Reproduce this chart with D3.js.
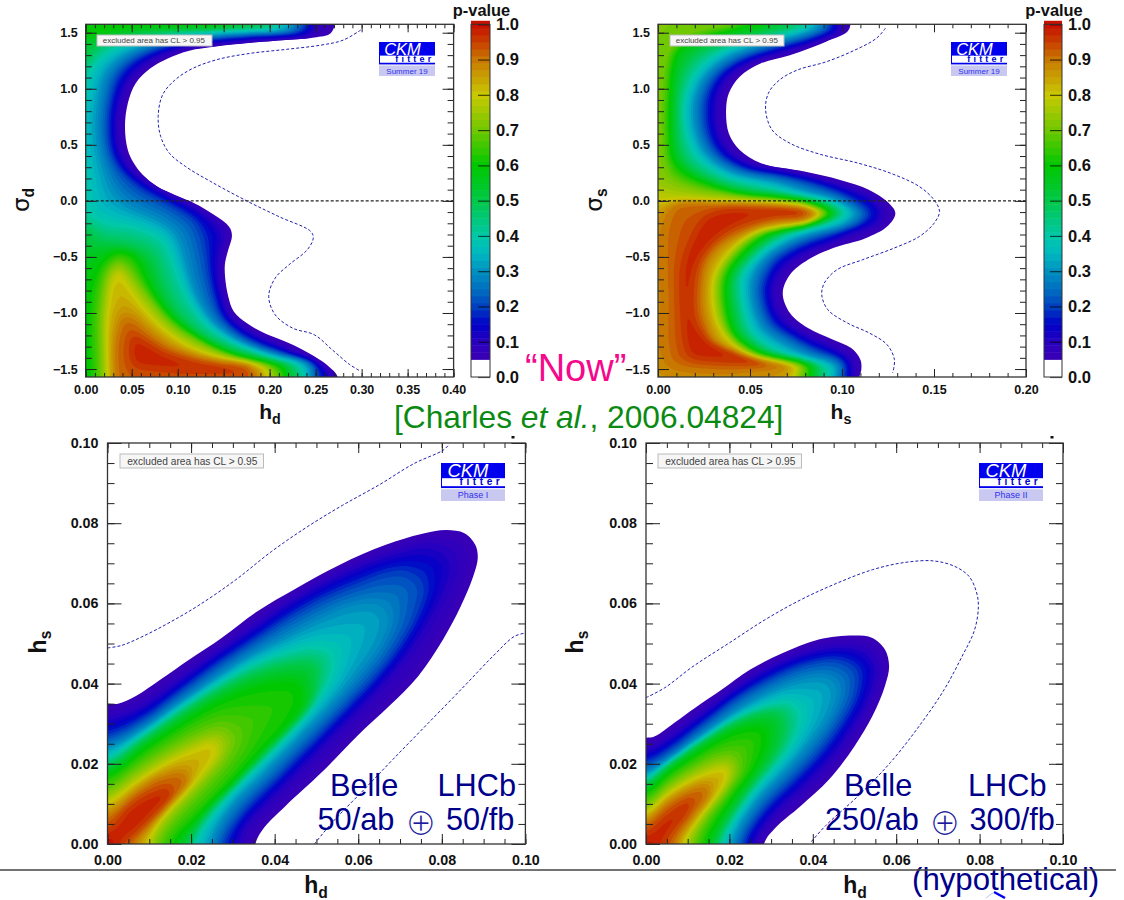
<!DOCTYPE html>
<html>
<head>
<meta charset="utf-8">
<script src="https://cdn.jsdelivr.net/npm/d3@7"></script>
<style>
  html, body { margin: 0; padding: 0; background: #fff; }
  svg { display: block; font-family: "Liberation Sans", Arial, sans-serif; }
  .tick text { font-weight: bold; fill: #111; }
</style>
</head>
<body>
<svg id="chart" width="1124" height="900"></svg>
<script>
// colour bar of the p-value
const pStops = [0.05, 0.1, 0.15, 0.2, 0.25, 0.3, 0.35, 0.4, 0.45, 0.5, 0.6, 0.7, 0.8, 0.85, 0.9, 0.95, 1.0];
const pColors = ['#3c00b4', '#2800c0', '#0000c8', '#0040c0', '#0070c0', '#0090c0', '#00b8c0', '#00c8a8', '#00c878', '#00c848', '#00c800', '#70c800', '#c8c800', '#c8a000', '#c87800', '#c84000', '#c81000'];
const barTicks = [0, 0.1, 0.2, 0.3, 0.4, 0.5, 0.6, 0.7, 0.8, 0.9, 1.0];

// panel A: p-value contours in (h_d, sigma_d)
const a05 = [[.271,1.575],[.266,1.494],[.2485,1.458],[.2175,1.434],[.179,1.41],[.14,1.375],[.1126,1.34],[.0893,1.27],[.07,1.18],[.0544,1.05],[.0458,.87],[.0427,.66],[.0458,.454],[.0524,.336],[.062,.232],[.0777,.128],[.097,.053],[.1126,0],[.128,-.065],[.1476,-.169],[.157,-.244],[.159,-.318],[.155,-.437],[.1515,-.555],[.1515,-.674],[.155,-.852],[.161,-.986],[.175,-1.09],[.194,-1.179],[.2136,-1.244],[.229,-1.298],[.2485,-1.387],[.264,-1.476],[.274,-1.568]];
const a10 = [[.2485,1.575],[.2466,1.494],[.179,1.44],[.14,1.41],[.109,1.375],[.0816,1.30],[.062,1.21],[.0466,1.08],[.037,.9],[.033,.66],[.036,.454],[.0427,.336],[.0524,.246],[.07,.143],[.093,.04],[.1126,-.036],[.128,-.11],[.1417,-.2],[.1495,-.318],[.1456,-.466],[.1437,-.644],[.1483,-.852],[.155,-1.016],[.171,-1.135],[.19,-1.224],[.21,-1.298],[.229,-1.38],[.258,-1.476],[.266,-1.57]];
const a20 = [[.2388,1.575],[.233,1.51],[.202,1.485],[.163,1.458],[.128,1.434],[.093,1.39],[.07,1.33],[.05,1.24],[.035,1.108],[.027,.9],[.024,.66],[.027,.454],[.033,.336],[.0427,.232],[.062,.098],[.0816,.009],[.101,-.08],[.1185,-.184],[.126,-.318],[.13,-.466],[.134,-.674],[.14,-.882],[.1476,-1.03],[.163,-1.164],[.186,-1.268],[.21,-1.342],[.2485,-1.446],[.2524,-1.57]];
const a30 = [[.225,1.575],[.221,1.52],[.186,1.50],[.1476,1.485],[.1126,1.458],[.0816,1.42],[.0544,1.35],[.035,1.256],[.0214,1.12],[.0148,.9],[.0124,.66],[.0148,.454],[.0194,.306],[.027,.128],[.0408,-.02],[.062,-.11],[.0816,-.184],[.097,-.288],[.105,-.437],[.1126,-.674],[.122,-.882],[.136,-1.06],[.155,-1.194],[.1825,-1.313],[.21,-1.38],[.241,-1.46],[.2447,-1.57]];
const a40 = [[.21,1.575],[.206,1.54],[.171,1.52],[.132,1.50],[.093,1.48],[.058,1.434],[.031,1.36],[.0155,1.27],[.004,1.137],[-.002,.9],[-.006,.6],[-.002,.306],[.004,-.11],[.023,-.2],[.0466,-.229],[.07,-.288],[.0854,-.377],[.095,-.555],[.105,-.763],[.1165,-.941],[.132,-1.105],[.155,-1.238],[.186,-1.342],[.21,-1.417],[.231,-1.46],[.237,-1.57]];
const a50top = [[.194,1.7],[.194,1.575],[.186,1.553],[.14,1.54],[.093,1.52],[.0544,1.494],[.023,1.434],[.0078,1.36],[0,1.27],[-.02,1.25],[-.03,1.7]];
const a50low = [[-.002,-.258],[.0155,-.362],[.035,-.392],[.058,-.437],[.072,-.526],[.08,-.704],[.089,-.882],[.105,-1.06],[.128,-1.209],[.159,-1.328],[.19,-1.402],[.2194,-1.46],[.227,-1.57],[.23,-1.7],[-.03,-1.7],[-.03,-.25]];
const a60top = [[.155,1.7],[.155,1.575],[.101,1.553],[.0544,1.54],[.023,1.52],[.004,1.49],[-.02,1.47],[-.03,1.7]];
const a60low = [[.035,-.451],[.0194,-.54],[.009,-.733],[.004,-1.03],[.004,-1.328],[.005,-1.57],[.005,-1.7],[.2175,-1.7],[.2175,-1.57],[.2117,-1.476],[.1786,-1.417],[.1476,-1.328],[.1165,-1.179],[.093,-1.03],[.0757,-.852],[.064,-.674],[.0524,-.496]];
const a70 = [[.0357,-.555],[.025,-.63],[.0194,-.823],[.0167,-1.06],[.0167,-1.328],[.0175,-1.57],[.0175,-1.7],[.208,-1.7],[.208,-1.57],[.202,-1.476],[.159,-1.372],[.128,-1.268],[.097,-1.12],[.0738,-.912],[.06,-.763],[.0485,-.63]];
const a80 = [[.0357,-.644],[.028,-.733],[.024,-.941],[.0225,-1.179],[.024,-1.57],[.024,-1.7],[.198,-1.7],[.198,-1.57],[.192,-1.476],[.14,-1.387],[.109,-1.283],[.08,-1.105],[.06,-.927],[.0466,-.763]];
const a90 = [[.041,-1.06],[.035,-1.179],[.032,-1.357],[.032,-1.57],[.032,-1.7],[.1864,-1.7],[.1864,-1.57],[.175,-1.46],[.1476,-1.43],[.1165,-1.38],[.089,-1.298],[.066,-1.164],[.0505,-1.06]];
const a95 = [[.051,-1.2],[.047,-1.357],[.052,-1.47],[.0816,-1.52],[.14,-1.54],[.175,-1.53],[.155,-1.48],[.12,-1.43],[.0854,-1.34],[.066,-1.25]];
const aDashed = [[.299,1.524],[.28,1.434],[.2563,1.39],[.2175,1.351],[.179,1.316],[.1437,1.262],[.1165,1.182],[.097,1.078],[.0835,.944],[.0788,.751],[.0816,.573],[.091,.425],[.1087,.306],[.136,.172],[.175,0],[.21,-.14],[.2447,-.273],[.2474,-.333],[.2408,-.437],[.221,-.57],[.206,-.689],[.199,-.852],[.206,-1.016],[.225,-1.135],[.2485,-1.194],[.268,-1.328],[.287,-1.46],[.299,-1.52]];

// panel B: p-value contours in (h_s, sigma_s)
const b05 = [[.1046,1.575],[.103,1.51],[.0913,1.42],[.0717,1.30],[.056,1.227],[.0444,1.108],[.0385,.96],[.037,.81],[.0385,.6],[.0444,.454],[.056,.336],[.0796,.261],[.099,.187],[.1148,.098],[.1245,-.006],[.129,-.11],[.1245,-.229],[.1128,-.333],[.0952,-.42],[.0815,-.526],[.0717,-.66],[.0678,-.823],[.0717,-1.0],[.0815,-1.135],[.0952,-1.238],[.105,-1.313],[.11,-1.417],[.1105,-1.506],[.1095,-1.57]];
const b10 = [[.099,1.575],[.098,1.51],[.0874,1.434],[.0678,1.33],[.05,1.24],[.0385,1.12],[.0326,.96],[.0313,.81],[.0326,.6],[.0385,.44],[.05,.32],[.0737,.246],[.095,.157],[.1128,.053],[.1177,0],[.1216,-.11],[.1187,-.2],[.105,-.288],[.0933,-.377],[.0776,-.48],[.066,-.63],[.062,-.823],[.066,-1.03],[.0776,-1.18],[.0913,-1.283],[.101,-1.372],[.105,-1.43],[.106,-1.57]];
const b20 = [[.0933,1.575],[.0923,1.524],[.0815,1.449],[.062,1.36],[.0444,1.256],[.0326,1.12],[.0268,.96],[.0252,.81],[.0268,.6],[.0326,.425],[.0463,.29],[.07,.217],[.0913,.113],[.106,0],[.1138,-.11],[.11,-.2],[.0952,-.288],[.0796,-.377],[.064,-.526],[.057,-.733],[.057,-.882],[.062,-1.09],[.0737,-1.224],[.0874,-1.342],[.0972,-1.40],[.101,-1.46],[.101,-1.57]];
const b30 = [[.0884,1.575],[.0854,1.53],[.0737,1.464],[.056,1.39],[.0385,1.286],[.0268,1.137],[.021,.96],[.0194,.81],[.021,.6],[.0268,.41],[.0405,.26],[.064,.172],[.0835,.068],[.0981,0],[.1079,-.11],[.101,-.214],[.0835,-.288],[.0698,-.377],[.057,-.526],[.051,-.704],[.051,-.882],[.057,-1.135],[.0698,-1.283],[.0835,-1.387],[.0933,-1.43],[.098,-1.49],[.0972,-1.57]];
const b40 = [[.0815,1.575],[.0796,1.54],[.0678,1.488],[.05,1.42],[.0326,1.316],[.021,1.15],[.0154,.96],[.014,.81],[.0154,.6],[.021,.395],[.0346,.232],[.058,.128],[.0757,.053],[.0923,0],[.102,-.11],[.0933,-.2],[.0737,-.288],[.06,-.407],[.05,-.555],[.0454,-.689],[.0457,-.882],[.051,-1.164],[.064,-1.328],[.0776,-1.417],[.0874,-1.446],[.0933,-1.506],[.0923,-1.57]];
const b50 = [[.0717,1.575],[.0678,1.54],[.054,1.494],[.0366,1.42],[.021,1.316],[.0135,1.15],[.0105,.93],[.0102,.75],[.0105,.54],[.015,.336],[.0287,.187],[.05,.083],[.0717,.04],[.0854,0],[.0972,-.11],[.0864,-.205],[.0669,-.288],[.0542,-.42],[.0444,-.585],[.0405,-.72],[.041,-.882],[.0463,-1.194],[.06,-1.357],[.0757,-1.402],[.0864,-1.476],[.0864,-1.57]];
const b60 = [[.056,1.575],[.0444,1.54],[.0248,1.464],[.011,1.345],[.0075,1.167],[.0065,.9],[.0065,.6],[.0075,.395],[.014,.261],[.0248,.172],[.0444,.068],[.064,.04],[.0796,0],[.0942,-.11],[.0825,-.214],[.061,-.288],[.0483,-.437],[.0385,-.644],[.0366,-.823],[.0414,-1.18],[.056,-1.357],[.0698,-1.417],[.0825,-1.476],[.0825,-1.57]];
const b70 = [[.0405,1.575],[.0287,1.524],[.014,1.45],[.0065,1.316],[.004,1.108],[.003,.9],[.003,.54],[.004,.365],[.0072,.217],[.021,.113],[.0405,.06],[.06,.02],[.0717,0],[.0913,-.11],[.0796,-.205],[.0561,-.288],[.0434,-.437],[.0346,-.644],[.0332,-.823],[.0385,-1.18],[.052,-1.357],[.0659,-1.417],[.0796,-1.476],[.0776,-1.57]];
const b80 = [[-.03,.005],[0,.005],[.03,.005],[.06,0],[.0678,-.015],[.0815,-.044],[.0884,-.11],[.0825,-.194],[.0522,-.288],[.0405,-.437],[.0317,-.644],[.0297,-.823],[.0336,-1.12],[.0483,-1.357],[.0659,-1.417],[.0758,-1.476],[.0737,-1.57],[.0737,-1.7],[-.03,-1.7]];
const b90 = [[.011,-.015],[.0346,-.02],[.064,-.044],[.0796,-.065],[.0845,-.11],[.0796,-.155],[.064,-.184],[.0502,-.258],[.0346,-.38],[.0268,-.526],[.0239,-.763],[.0248,-1.03],[.0326,-1.328],[.0463,-1.40],[.0688,-1.476],[.056,-1.50],[.03,-1.51],[.0072,-1.45],[.0043,-1.298],[.0045,-.882],[.0033,-.437],[.0033,-.229],[.0072,-.06]];
const b95 = [[.0766,-.074],[.0796,-.11],[.0757,-.14],[.062,-.154],[.0463,-.214],[.0326,-.347],[.0229,-.555],[.02,-.793],[.021,-1.06],[.0287,-1.238],[.0444,-1.357],[.058,-1.446],[.0346,-1.446],[.017,-1.4],[.014,-1.298],[.0121,-1.03],[.0121,-.585],[.017,-.347],[.0248,-.14],[.0362,-.065],[.0557,-.056]];
const bDashed = [[.1236,1.54],[.1187,1.45],[.107,1.345],[.0913,1.24],[.0757,1.167],[.066,1.078],[.06,.96],[.0585,.81],[.062,.633],[.0717,.514],[.0874,.419],[.1089,.336],[.1265,.246],[.142,.128],[.15,.009],[.153,-.095],[.15,-.2],[.142,-.318],[.1285,-.42],[.111,-.526],[.0972,-.615],[.0904,-.733],[.089,-.838],[.0923,-.971],[.103,-1.09],[.115,-1.18],[.1245,-1.283],[.1285,-1.417],[.1275,-1.535]];

// panel C: Phase I contours in (h_d, h_s)
const c05 = [[0,.035],[.0025,.035],[.0068,.0369],[.0127,.041],[.0196,.046],[.0273,.0514],[.0358,.058],[.0452,.0638],[.0555,.0696],[.0666,.0746],[.0751,.0773],[.0811,.0783],[.0854,.0775],[.088,.0746],[.0886,.0713],[.0875,.0667],[.0845,.0592],[.0803,.051],[.0743,.0418],[.0674,.0344],[.0597,.0269],[.0512,.0178],[.0426,.0095],[.0375,.0041],[.0354,0]];
const c10 = [[0,.0311],[.0085,.0344],[.017,.0406],[.0256,.0472],[.0341,.0534],[.0426,.0597],[.0512,.065],[.0597,.0692],[.0683,.0725],[.0768,.0746],[.0815,.0725],[.0828,.0692],[.0811,.0634],[.0768,.0551],[.0709,.046],[.064,.0377],[.0563,.0294],[.0478,.0203],[.0392,.0112],[.0332,.0046],[.0315,0]];
const c20 = [[0,.0269],[.0085,.0311],[.017,.0377],[.0256,.0443],[.0341,.0501],[.0426,.0559],[.0512,.0609],[.0597,.0646],[.0674,.0675],[.0717,.0675],[.0751,.0642],[.0738,.0576],[.07,.0501],[.064,.0418],[.0572,.0344],[.0495,.0261],[.0409,.017],[.0324,.0079],[.0277,0]];
const c30 = [[0,.024],[.0085,.0286],[.017,.0348],[.0256,.041],[.0341,.0468],[.0426,.0514],[.0512,.0559],[.058,.0588],[.064,.0592],[.0666,.0563],[.0649,.0501],[.0597,.0427],[.0529,.0344],[.0452,.0261],[.0367,.017],[.029,.0087],[.0247,0]];
const c40 = [[0,.0215],[.0085,.0273],[.017,.0336],[.0256,.0394],[.0341,.0443],[.0426,.0476],[.0495,.0489],[.0533,.0476],[.0538,.0435],[.0512,.0377],[.0444,.0286],[.0358,.0195],[.0281,.0112],[.0209,0]];
const c50 = [[0,.0195],[.0085,.0258],[.017,.0319],[.0256,.0375],[.0341,.0419],[.0426,.0445],[.049,.0445],[.05,.041],[.0485,.0345],[.041,.0262],[.032,.0165],[.0245,.0085],[.0195,0]];
const c60 = [[0,.0172],[.0085,.0236],[.017,.0295],[.0256,.0348],[.0341,.0385],[.0409,.04],[.0452,.0395],[.0465,.0362],[.0435,.03],[.0365,.0225],[.028,.013],[.021,.0058],[.016,0]];
const c70 = [[0,.0133],[.0068,.0182],[.0144,.0232],[.0221,.0273],[.0273,.0286],[.0298,.0261],[.0281,.0211],[.0221,.0137],[.0162,.007],[.0119,0]];
const c80 = [[0,.0104],[.0068,.0153],[.0144,.0203],[.0213,.0236],[.0247,.0249],[.026,.0232],[.0238,.0191],[.0179,.012],[.0127,.0062],[.0097,0]];
const c90 = [[0,.007],[.0059,.012],[.0119,.0162],[.0179,.0174],[.0191,.0157],[.0153,.0104],[.0102,.0046],[.0063,0]];
const c95 = [[0,.0041],[.005,.0095],[.0102,.0128],[.0144,.0138],[.0153,.0124],[.011,.007],[.0072,.0029],[.0042,0]];
const cDashedUp = [[0,.0489],[.0033,.0495],[.0085,.0518],[.0153,.0555],[.0221,.0597],[.0307,.0659],[.0392,.0729],[.0478,.0791],[.0563,.0845],[.0649,.0895],[.0734,.0949],[.0803,.0982],[.0818,.0997]];
const cDashedLow = [[.0495,0],[.0538,.0054],[.0615,.0137],[.0683,.0211],[.0768,.0302],[.0854,.0394],[.0922,.0468],[.0974,.0518],[.1,.0526]];

// panel D: Phase II contours in (h_d, h_s)
const d05 = [[0,.0265],[.002,.0268],[.0052,.029],[.0113,.0336],[.0182,.0385],[.025,.0435],[.0328,.0476],[.0414,.051],[.05,.052],[.0543,.0514],[.0573,.0485],[.0583,.0443],[.0573,.0394],[.0543,.0319],[.05,.0244],[.044,.0162],[.0371,.0095],[.0311,.0041],[.0283,0]];
const d10 = [[0,.0232],[.0052,.0261],[.0139,.0327],[.0225,.0394],[.0311,.0447],[.0397,.048],[.0474,.0493],[.0526,.0481],[.0552,.0443],[.0543,.0385],[.0509,.0311],[.0448,.022],[.038,.0145],[.0311,.0079],[.0259,0]];
const d20 = [[0,.0203],[.0052,.0232],[.0139,.0302],[.0225,.0369],[.0311,.0418],[.0397,.0452],[.0466,.0456],[.0504,.0427],[.05,.0369],[.0466,.0302],[.0414,.0228],[.0345,.0153],[.0276,.0079],[.0233,0]];
const d30 = [[0,.0178],[.0052,.0207],[.0139,.0273],[.0225,.0336],[.0311,.0385],[.0388,.041],[.0431,.041],[.0453,.0385],[.044,.0327],[.0397,.0261],[.0336,.0186],[.0268,.0112],[.0207,0]];
const d40 = [[0,.0162],[.0052,.0203],[.0139,.0265],[.0225,.0319],[.0302,.0348],[.0345,.0352],[.0367,.0323],[.0354,.0261],[.0302,.0186],[.0242,.0112],[.0182,0]];
const d50 = [[0,.0152],[.0052,.0195],[.013,.0252],[.0208,.03],[.0275,.0326],[.0315,.0326],[.033,.0293],[.0312,.0228],[.0259,.0153],[.017,0]];
const d60 = [[0,.013],[.0052,.0176],[.0121,.0225],[.019,.0268],[.0245,.0288],[.028,.0285],[.0285,.0252],[.026,.0188],[.0208,.0115],[.0145,0]];
const d70 = [[0,.0099],[.0052,.0145],[.0113,.0186],[.0173,.0215],[.0207,.0215],[.022,.0186],[.019,.0128],[.0147,.007],[.0113,0]];
const d80 = [[0,.0079],[.0052,.0124],[.0113,.0162],[.0164,.0182],[.019,.0186],[.0194,.0162],[.0164,.0112],[.0121,.0054],[.0091,0]];
const d90 = [[0,.0054],[.0044,.0095],[.0096,.0128],[.0143,.0141],[.0147,.012],[.0113,.007],[.007,0]];
const d95 = [[0,.0033],[.0035,.0062],[.0078,.0095],[.0108,.0108],[.01,.0079],[.007,.0037],[.0048,0]];
const dDashed = [[0,.0365],[.0044,.0389],[.0113,.0443],[.0199,.0501],[.0285,.0559],[.0371,.0609],[.0457,.065],[.0543,.0684],[.062,.0702],[.0689,.0706],[.0741,.0692],[.0775,.0667],[.0793,.0626],[.0797,.0592],[.0788,.0534],[.0758,.0468],[.0715,.0385],[.0655,.0294],[.0586,.0203],[.0509,.012],[.0431,.0046],[.0395,.0004]];

const svg = d3.select('#chart');
const color = d3.scaleLinear().domain(pStops).range(pColors).clamp(true);
const bandEdges = d3.range(0.07, 0.995, 0.02);

// polygons start at the top or left of the frame; run them outside of it to close
function closeTop(pts) {
    const first = pts[0], last = pts[pts.length - 1];
    return [[first[0], 1.7], ...pts, [last[0], -1.7], [-.03, -1.7], [-.03, 1.7]];
}
function closeCorner(pts) {
    const first = pts[0], last = pts[pts.length - 1];
    return [[-.01, first[1]], ...pts, [last[0], -.01], [-.01, -.01]];
}

const panelA = {
    id: 'a', box: [85.7, 453.6, 24.3, 377], xDomain: [0, 0.4], yDomain: [-1.571, 1.575],
    xMajor: d3.range(0, 0.401, 0.05), xMinor: d3.range(0, 0.401, 0.01),
    yMajor: [-1.5, -1, -0.5, 0, 0.5, 1, 1.5], yMinor: d3.range(-1.5, 1.51, 0.1),
    xFmt: '.2f', yFmt: '.1f', fs: 12.5, tick: [8, 4, 11, 6], xPad: 8, yPad: 8,
    outer: closeTop(a05),
    levels: [[.1, closeTop(a10)], [.2, closeTop(a20)], [.3, closeTop(a30)], [.4, closeTop(a40)], [.5, a50top], [.5, a50low], [.6, a60top], [.6, a60low], [.7, a70], [.8, a80], [.9, a90], [.95, a95]],
    dashed: [aDashed], zeroLine: true,
    legend: [97, 35, 115, 11, 8], logo: [379, 42, 56, 34, 'Summer 19'],
    xTitle: ['h', 'd', 270, 419, 21], yTitle: ['σ', 'd', 29, 200, 23]
};
const panelB = {
    id: 'b', box: [658, 1026, 24.3, 377], xDomain: [0, 0.2], yDomain: [-1.571, 1.575],
    xMajor: d3.range(0, 0.201, 0.05), xMinor: d3.range(0, 0.201, 0.01),
    yMajor: [-1.5, -1, -0.5, 0, 0.5, 1, 1.5], yMinor: d3.range(-1.5, 1.51, 0.1),
    xFmt: '.2f', yFmt: '.1f', fs: 12.5, tick: [8, 4, 11, 6], xPad: 8, yPad: 8,
    outer: closeTop(b05),
    levels: [[.1, closeTop(b10)], [.2, closeTop(b20)], [.3, closeTop(b30)], [.4, closeTop(b40)], [.5, closeTop(b50)], [.6, closeTop(b60)], [.7, closeTop(b70)], [.8, b80], [.9, b90], [.95, b95]],
    dashed: [bDashed], zeroLine: true,
    legend: [670, 35, 114, 11, 8], logo: [951, 42, 56, 34, 'Summer 19'],
    xTitle: ['h', 's', 841, 419, 21], yTitle: ['σ', 's', 602, 200, 23]
};
const panelC = {
    id: 'c', box: [107.5, 525.4, 443, 844], xDomain: [0, 0.1], yDomain: [0, 0.1],
    xMajor: d3.range(0, 0.101, 0.02), xMinor: d3.range(0, 0.101, 0.005),
    yMajor: d3.range(0, 0.101, 0.02), yMinor: d3.range(0, 0.101, 0.005),
    xFmt: '.2f', yFmt: '.2f', fs: 14.3, tick: [10, 5, 14, 7], xPad: 11, yPad: 9,
    outer: closeCorner(c05),
    levels: [[.1, closeCorner(c10)], [.2, closeCorner(c20)], [.3, closeCorner(c30)], [.4, closeCorner(c40)], [.5, closeCorner(c50)], [.6, closeCorner(c60)], [.7, closeCorner(c70)], [.8, closeCorner(c80)], [.9, closeCorner(c90)], [.95, closeCorner(c95)]],
    dashed: [cDashedUp, cDashedLow], zeroLine: false,
    legend: [120, 454, 143.5, 14, 10.2], logo: [441, 463, 64, 38, 'Phase I'],
    xTitle: ['h', 'd', 316, 893, 23], yTitle: ['h', 's', 46, 642, 23]
};
const panelD = {
    id: 'd', box: [646, 1063, 443, 844], xDomain: [0, 0.1], yDomain: [0, 0.1],
    xMajor: d3.range(0, 0.101, 0.02), xMinor: d3.range(0, 0.101, 0.005),
    yMajor: d3.range(0, 0.101, 0.02), yMinor: d3.range(0, 0.101, 0.005),
    xFmt: '.2f', yFmt: '.2f', fs: 14.3, tick: [10, 5, 14, 7], xPad: 11, yPad: 9,
    outer: closeCorner(d05),
    levels: [[.1, closeCorner(d10)], [.2, closeCorner(d20)], [.3, closeCorner(d30)], [.4, closeCorner(d40)], [.5, closeCorner(d50)], [.6, closeCorner(d60)], [.7, closeCorner(d70)], [.8, closeCorner(d80)], [.9, closeCorner(d90)], [.95, closeCorner(d95)]],
    dashed: [dDashed], zeroLine: false,
    legend: [658, 454, 143.5, 14, 10.2], logo: [979, 463, 64, 38, 'Phase II'],
    xTitle: ['h', 'd', 855, 893, 23], yTitle: ['h', 's', 583, 642, 23]
};

// walk along a smooth contour and give back pixel points
function samplePath(d) {
    const el = document.createElementNS('http://www.w3.org/2000/svg', 'path');
    el.setAttribute('d', d);
    const len = el.getTotalLength(), out = [];
    for (let s = 0; s < len; s += 3) {
        const pt = el.getPointAtLength(s);
        out.push([pt.x, pt.y]);
    }
    return out;
}

function nearest(px, py, polys) {
    let best = Infinity;
    for (const poly of polys) {
        for (let i = 0; i < poly.length; i++) {
            const dx = poly[i][0] - px, dy = poly[i][1] - py;
            const dd = dx * dx + dy * dy;
            if (dd < best) best = dd;
        }
    }
    return Math.sqrt(best);
}

// fill the plot area with p-values between the contours that were read off,
// so that d3.contours can draw the thin colour bands
function bandField(p, shape, step) {
    const [left, right, top, bottom] = p.box;
    const groups = [{ v: 0.05, polys: [samplePath(shape(p.outer))] }];
    p.levels.forEach(d => {
        const poly = samplePath(shape(d[1]));
        const last = groups[groups.length - 1];
        if (last.v === d[0]) last.polys.push(poly);
        else groups.push({ v: d[0], polys: [poly] });
    });
    const nx = Math.ceil((right - left) / step) + 3, ny = Math.ceil((bottom - top) / step) + 3;
    let values = new Float64Array(nx * ny);
    for (let j = 0; j < ny; j++) {
        for (let i = 0; i < nx; i++) {
            const px = left + (i - 1) * step, py = top + (j - 1) * step;
            let k = -1;
            for (let g = groups.length - 1; g >= 0 && k < 0; g--) {
                if (groups[g].polys.some(poly => d3.polygonContains(poly, [px, py]))) k = g;
            }
            let v = 0.05;
            if (k >= 0) {
                const lo = nearest(px, py, groups[k].polys);
                if (k === groups.length - 1) {
                    v = groups[k].v + 0.05 * Math.min(1, lo / 14);
                } else {
                    const hi = nearest(px, py, groups[k + 1].polys);
                    v = groups[k].v + (groups[k + 1].v - groups[k].v) * lo / (lo + hi);
                }
            }
            values[j * nx + i] = v;
        }
    }
    // a few passes of a small box blur take out the kinks
    for (let pass = 0; pass < 3; pass++) {
        const next = values.slice();
        for (let j = 1; j < ny - 1; j++) {
            for (let i = 1; i < nx - 1; i++) {
                let sum = 0;
                for (let b = -1; b <= 1; b++) for (let a = -1; a <= 1; a++) sum += values[(j + b) * nx + i + a];
                next[j * nx + i] = sum / 9;
            }
        }
        values = next;
    }
    return { nx, ny, values };
}

function drawPanel(p) {
    const [left, right, top, bottom] = p.box;
    const x = d3.scaleLinear().domain(p.xDomain).range([left, right]);
    const y = d3.scaleLinear().domain(p.yDomain).range([bottom, top]);
    const shape = d3.line().x(d => x(d[0])).y(d => y(d[1])).curve(d3.curveCatmullRomClosed.alpha(0.5));
    const open = d3.line().x(d => x(d[0])).y(d => y(d[1])).curve(d3.curveCatmullRom.alpha(0.5));

    const defs = svg.append('defs');
    defs.append('clipPath').attr('id', 'frame-' + p.id).append('rect')
        .attr('x', left).attr('y', top).attr('width', right - left).attr('height', bottom - top);
    defs.append('clipPath').attr('id', 'outer-' + p.id).append('path').attr('d', shape(p.outer));

    const step = 2;
    const f = bandField(p, shape, step);
    const bands = d3.contours().size([f.nx, f.ny]).thresholds(bandEdges)(Array.from(f.values));
    const gridPath = d3.geoPath();

    const field = svg.append('g').attr('clip-path', `url(#frame-${p.id})`);
    field.append('path').attr('d', shape(p.outer)).attr('fill', color(0.06));
    field.append('g').attr('clip-path', `url(#outer-${p.id})`)
        .append('g').attr('transform', `translate(${left - 1.5 * step},${top - 1.5 * step}) scale(${step})`)
        .selectAll('path').data(bands).enter().append('path')
        .attr('d', gridPath).attr('fill', d => color(d.value + 0.01));

    field.selectAll('.ci').data(p.dashed).enter().append('path').attr('class', 'ci')
        .attr('d', d => open(d)).attr('fill', 'none')
        .attr('stroke', '#2020b0').attr('stroke-width', 1).attr('stroke-dasharray', '3 2');

    if (p.zeroLine) {
        svg.append('line').attr('x1', left).attr('x2', right).attr('y1', y(0)).attr('y2', y(0))
            .attr('stroke', '#222').attr('stroke-width', 1.2).attr('stroke-dasharray', '3 2');
    }

    // ticks on the four sides, pointing inwards
    const [xBig, xSmall, yBig, ySmall] = p.tick;
    const addAxis = (axis, tr) => {
        const g = svg.append('g').attr('transform', tr).call(axis);
        g.select('.domain').remove();
        g.selectAll('.tick line').attr('stroke', '#222');
        g.selectAll('text').attr('font-size', p.fs).attr('font-family', '"Liberation Sans", Arial, sans-serif');
        return g;
    };
    const fx = d3.format(p.xFmt), fy = d3.format(p.yFmt);
    addAxis(d3.axisBottom(x).tickValues(p.xMajor).tickFormat(fx).tickSize(-xBig).tickPadding(p.xPad), `translate(0,${bottom})`);
    addAxis(d3.axisBottom(x).tickValues(p.xMinor).tickFormat('').tickSize(-xSmall), `translate(0,${bottom})`);
    addAxis(d3.axisTop(x).tickValues(p.xMajor).tickFormat('').tickSize(-xBig), `translate(0,${top})`);
    addAxis(d3.axisTop(x).tickValues(p.xMinor).tickFormat('').tickSize(-xSmall), `translate(0,${top})`);
    addAxis(d3.axisLeft(y).tickValues(p.yMajor).tickFormat(fy).tickSize(-yBig).tickPadding(p.yPad), `translate(${left},0)`);
    addAxis(d3.axisLeft(y).tickValues(p.yMinor).tickFormat('').tickSize(-ySmall), `translate(${left},0)`);
    addAxis(d3.axisRight(y).tickValues(p.yMajor).tickFormat('').tickSize(-yBig), `translate(${right},0)`);
    addAxis(d3.axisRight(y).tickValues(p.yMinor).tickFormat('').tickSize(-ySmall), `translate(${right},0)`);

    svg.append('rect').attr('x', left).attr('y', top).attr('width', right - left).attr('height', bottom - top)
        .attr('fill', 'none').attr('stroke', '#333').attr('stroke-width', 1.3);

    // "excluded area" label
    const [lx, ly, lw, lh, lfs] = p.legend;
    svg.append('rect').attr('x', lx).attr('y', ly).attr('width', lw).attr('height', lh)
        .attr('fill', '#f6f6f6').attr('stroke', '#bbb').attr('stroke-width', 1);
    svg.append('text').attr('x', lx + lw * 0.05).attr('y', ly + lh * 0.76).attr('font-size', lfs).attr('fill', '#444')
        .text('excluded area has CL > 0.95');

    // CKMfitter logo
    const [bx, by, bw, bh, tag] = p.logo;
    const u = bh / 34;
    svg.append('rect').attr('x', bx).attr('y', by).attr('width', bw).attr('height', bh * 0.66).attr('fill', '#0000ee');
    svg.append('rect').attr('x', bx + 1).attr('y', by + bh * 0.40).attr('width', bw - 1).attr('height', bh * 0.21).attr('fill', '#fff');
    svg.append('rect').attr('x', bx).attr('y', by + bh * 0.69).attr('width', bw).attr('height', bh * 0.31).attr('fill', '#c8c8f0');
    svg.append('text').attr('x', bx + bw * 0.42).attr('y', by + bh * 0.37).attr('text-anchor', 'middle')
        .attr('font-size', 16.5 * u).attr('font-style', 'italic').attr('fill', '#fff').text('CKM');
    svg.append('text').attr('x', bx + bw * 0.29).attr('y', by + bh * 0.585)
        .attr('font-size', 9 * u).attr('font-weight', 'bold').attr('letter-spacing', 3.2 * u).attr('fill', '#0000cc').text('fitter');
    svg.append('text').attr('x', bx + bw / 2).attr('y', by + bh * 0.93).attr('text-anchor', 'middle')
        .attr('font-size', 8 * u).attr('fill', '#3030f0').text(tag);

    // axis titles
    const [xa, xb, xx, xy, xs] = p.xTitle;
    const xt = svg.append('text').attr('x', xx).attr('y', xy).attr('text-anchor', 'middle').attr('font-size', xs).attr('font-weight', 'bold').attr('fill', '#111');
    xt.append('tspan').text(xa);
    xt.append('tspan').attr('font-size', xs * 0.68).attr('dy', xs * 0.22).text(xb);
    const [ya, yb, yx, yy, ys] = p.yTitle;
    const yt = svg.append('text').attr('transform', `translate(${yx},${yy}) rotate(-90)`).attr('text-anchor', 'middle').attr('font-size', ys).attr('fill', '#111').attr('font-weight', 'bold');
    const head = yt.append('tspan').text(ya);
    if (ya === 'σ') head.attr('font-weight', 'normal').attr('font-family', '"DejaVu Sans"');
    yt.append('tspan').attr('font-size', ys * 0.68).attr('dy', ys * 0.22).text(yb);
}

function drawBar(left, right, top, bottom) {
    const y = d3.scaleLinear().domain([0, 1]).range([bottom, top]);
    svg.append('g').selectAll('rect').data(d3.range(0.05, 0.999, 0.02)).enter().append('rect')
        .attr('x', left).attr('width', right - left)
        .attr('y', d => y(d + 0.02)).attr('height', (bottom - top) * 0.02 + 0.5)
        .attr('fill', d => color(d + 0.01));
    const g = svg.append('g').attr('transform', `translate(${right},0)`)
        .call(d3.axisRight(y).tickValues(barTicks).tickFormat(d3.format('.1f')).tickSize(-12).tickPadding(6));
    g.select('.domain').remove();
    g.selectAll('.tick line').attr('stroke', '#000').attr('stroke-opacity', 0.65).attr('stroke-width', 1.2);
    g.selectAll('text').attr('font-size', 16.5).attr('font-family', '"Liberation Sans", Arial, sans-serif');
    svg.append('rect').attr('x', left).attr('y', top).attr('width', right - left).attr('height', bottom - top)
        .attr('fill', 'none').attr('stroke', '#333').attr('stroke-width', 1);
    svg.append('text').attr('x', (left + right) / 2 + 1).attr('y', 16).attr('text-anchor', 'middle')
        .attr('font-size', 16.4).attr('font-weight', 'bold').attr('fill', '#111').text('p-value');
}

[panelA, panelB, panelC, panelD].forEach(drawPanel);
drawBar(471, 490, 24.3, 377);
drawBar(1044, 1062, 24.3, 377);

// slide annotations on top of the plots
const addText = (x, y, size, fill, txt) => svg.append('text').attr('x', x).attr('y', y).attr('font-size', size).attr('fill', fill).text(txt);
const navy = '#00008b';
addText(525, 381, 38, '#f5088c', '“Now”');
const cite = addText(394, 428, 31.7, '#0b8a12', '[Charles ');
cite.append('tspan').attr('font-style', 'italic').text('et al.');
cite.append('tspan').text(', 2006.04824]');

addText(330, 796, 30.7, navy, 'Belle');
addText(437.5, 796, 30.7, navy, 'LHCb');
addText(317.5, 830, 30.7, navy, '50/ab');
addText(446, 830, 30.7, navy, '50/fb');
addText(844, 796, 30.7, navy, 'Belle');
addText(968, 796, 30.7, navy, 'LHCb');
addText(825, 830, 30.7, navy, '250/ab');
addText(969.5, 830, 30.7, navy, '300/fb');
// white outline thins the glyph down to the hairline circle of the slide
[421, 945].forEach(cx => {
    svg.append('text').attr('x', cx).attr('y', 835).attr('text-anchor', 'middle').attr('font-size', 38)
        .attr('font-family', '"DejaVu Sans"').attr('fill', '#1a1a9c')
        .attr('stroke', '#fff').attr('stroke-width', 1.3).text('⊕');
});
addText(912, 890, 31.2, navy, '(hypothetical)');

svg.append('line').attr('x1', 0).attr('x2', 1116).attr('y1', 870).attr('y2', 870).attr('stroke', '#444').attr('stroke-width', 1.5);
svg.append('line').attr('x1', 994).attr('x2', 1005).attr('y1', 892).attr('y2', 898).attr('stroke', '#0000ee').attr('stroke-width', 2.5);
svg.append('line').attr('x1', 986).attr('x2', 994).attr('y1', 898).attr('y2', 892).attr('stroke', '#b8c8f8').attr('stroke-width', 1);
[513, 1052].forEach(cx => {
    svg.append('rect').attr('x', cx - 1.5).attr('y', 436).attr('width', 3).attr('height', 2.5).attr('fill', '#111');
});
</script>
</body>
</html>
